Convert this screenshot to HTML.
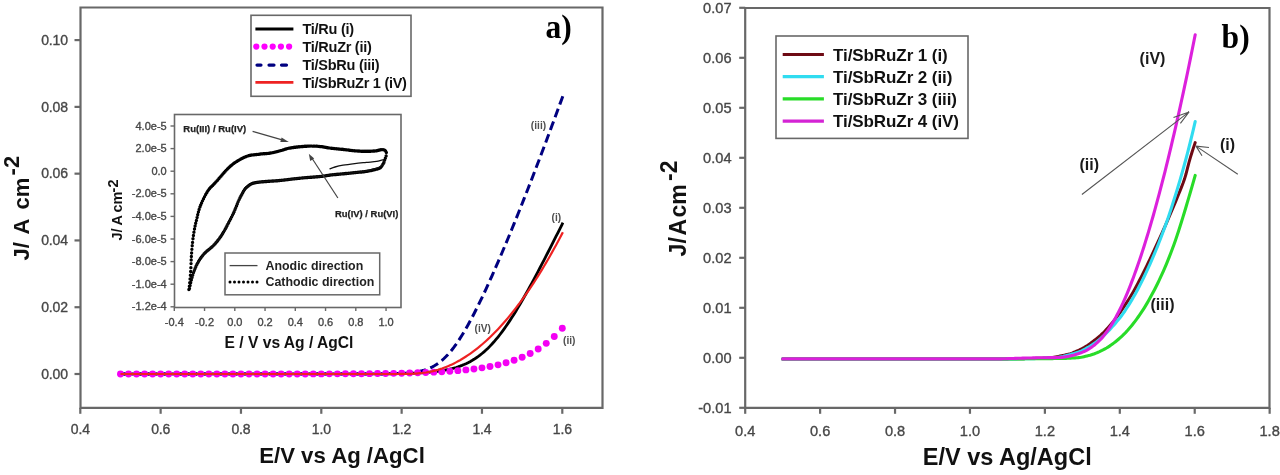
<!DOCTYPE html><html><head><meta charset="utf-8"><style>
html,body{margin:0;padding:0;background:#fff;width:1280px;height:475px;overflow:hidden}
svg{display:block;filter:blur(0.5px)}
text{font-family:"Liberation Sans",sans-serif}
.ser{font-family:"Liberation Serif",serif;font-weight:bold}
</style></head><body>
<svg width="1280" height="475" viewBox="0 0 1280 475">
<rect width="1280" height="475" fill="#fff"/>
<g fill="none" stroke="#686868" stroke-width="2.2">
<path d="M80.5,7.5 H602.5 V407.8 H80.5 Z"/>
<path d="M74.5,374 H80.5"/>
<path d="M74.5,307.22 H80.5"/>
<path d="M74.5,240.44 H80.5"/>
<path d="M74.5,173.66 H80.5"/>
<path d="M74.5,106.88 H80.5"/>
<path d="M74.5,40.1 H80.5"/>
<path d="M80.3,407.8 V413.8"/>
<path d="M160.63,407.8 V413.8"/>
<path d="M240.97,407.8 V413.8"/>
<path d="M321.3,407.8 V413.8"/>
<path d="M401.64,407.8 V413.8"/>
<path d="M481.97,407.8 V413.8"/>
<path d="M562.3,407.8 V413.8"/>
</g>
<g font-size="14" letter-spacing="-0.1" fill="#474747" stroke="#474747" stroke-width="0.35" text-anchor="end">
<text x="68" y="378.8">0.00</text>
<text x="68" y="312.02">0.02</text>
<text x="68" y="245.24">0.04</text>
<text x="68" y="178.46">0.06</text>
<text x="68" y="111.68">0.08</text>
<text x="68" y="44.9">0.10</text>
</g>
<g font-size="14" letter-spacing="-0.2" fill="#474747" stroke="#474747" stroke-width="0.35" text-anchor="middle">
<text x="80.3" y="433.9">0.4</text>
<text x="160.63" y="433.9">0.6</text>
<text x="240.97" y="433.9">0.8</text>
<text x="321.3" y="433.9">1.0</text>
<text x="401.64" y="433.9">1.2</text>
<text x="481.97" y="433.9">1.4</text>
<text x="562.3" y="433.9">1.6</text>
</g>
<text x="259.2" y="462.6" font-size="22.2" font-weight="bold" fill="#111">E/V vs Ag /AgCl</text>
<g transform="translate(28.6,0) rotate(-90)" font-weight="bold" fill="#111" font-size="22"><text x="-260.6" y="0">J/</text><text x="-234.6" y="0">A</text><text x="-209.6" y="0">cm</text><text x="-175.4" y="-9.2">-2</text></g>
<text class="ser" transform="translate(545.5,37.9) scale(0.93,1)" font-size="34" fill="#000">a)</text>
<rect x="251" y="15.3" width="160" height="81" fill="#fff" stroke="#686868" stroke-width="1.6"/>
<path d="M255.4,29 H293.4" stroke="#000" stroke-width="3"/>
<g fill="#ff00ff"><circle cx="256.3" cy="46.6" r="3.1"/><circle cx="264.5" cy="46.6" r="3.1"/><circle cx="272.7" cy="46.6" r="3.1"/><circle cx="280.9" cy="46.6" r="3.1"/><circle cx="289.1" cy="46.6" r="3.1"/></g>
<path d="M257,65.1 H261 M269,65.1 H274 M281.5,65.1 H286.5" stroke="#000080" stroke-width="3.2" stroke-linecap="round"/>
<path d="M255.4,82.4 H293.4" stroke="#ee2222" stroke-width="2.6"/>
<g font-size="14.5" font-weight="bold" fill="#111" letter-spacing="-0.27">
<text x="302.5" y="34.4">Ti/Ru (i)</text>
<text x="302.5" y="52.3">Ti/RuZr (ii)</text>
<text x="302.5" y="70.2">Ti/SbRu (iii)</text>
<text x="302.5" y="88.1">Ti/SbRuZr 1 (iV)</text>
</g>
<path d="M120.47,374 L380,373.85 L382,373.83 L384,373.81 L386,373.79 L388,373.77 L390,373.75 L392,373.72 L394,373.69 L396,373.66 L398,373.62 L400,373.58 L402,373.54 L404,373.49 L406,373.44 L408,373.38 L410,373.31 L412,373.24 L414,373.16 L416,373.07 L418,372.98 L420,372.87 L422,372.75 L424,372.62 L426,372.48 L428,372.32 L430,372.14 L432,371.95 L434,371.74 L436,371.51 L438,371.25 L440,370.97 L442,370.66 L444,370.32 L446,369.94 L448,369.53 L450,369.08 L452,368.59 L454,368.05 L456,367.47 L458,366.83 L460,366.13 L462,365.37 L464,364.55 L466,363.66 L468,362.69 L470,361.65 L472,360.52 L474,359.31 L476,358.01 L478,356.61 L480,355.12 L482,353.53 L484,351.84 L486,350.04 L488,348.14 L490,346.13 L492,344.01 L494,341.79 L496,339.46 L498,337.03 L500,334.5 L502,331.86 L504,329.13 L506,326.31 L508,323.39 L510,320.38 L512,317.3 L514,314.13 L516,310.89 L518,307.59 L520,304.21 L522,300.78 L524,297.28 L526,293.74 L528,290.14 L530,286.5 L532,282.82 L534,279.1 L536,275.35 L538,271.57 L540,267.75 L542,263.91 L544,260.05 L546,256.17 L548,252.26 L550,248.34 L552,244.4 L554,240.45 L556,236.49 L558,232.52 L560,228.53 L562,224.54 L562.9,222.74" fill="none" stroke="#000" stroke-width="2.8"/>
<path d="M120.47,374 L380,373.91 L382,373.9 L384,373.88 L386,373.85 L388,373.83 L390,373.79 L392,373.75 L394,373.71 L396,373.65 L398,373.58 L400,373.5 L402,373.41 L404,373.29 L406,373.16 L408,373 L410,372.81 L412,372.59 L414,372.34 L416,372.03 L418,371.68 L420,371.27 L422,370.79 L424,370.24 L426,369.6 L428,368.87 L430,368.03 L432,367.08 L434,366.01 L436,364.81 L438,363.47 L440,361.98 L442,360.33 L444,358.53 L446,356.57 L448,354.45 L450,352.17 L452,349.72 L454,347.12 L456,344.37 L458,341.47 L460,338.42 L462,335.25 L464,331.94 L466,328.51 L468,324.97 L470,321.32 L472,317.58 L474,313.73 L476,309.8 L478,305.79 L480,301.7 L482,297.54 L484,293.31 L486,289.01 L488,284.66 L490,280.25 L492,275.79 L494,271.27 L496,266.71 L498,262.11 L500,257.46 L502,252.77 L504,248.04 L506,243.28 L508,238.47 L510,233.64 L512,228.77 L514,223.86 L516,218.93 L518,213.96 L520,208.97 L522,203.95 L524,198.9 L526,193.82 L528,188.72 L530,183.59 L532,178.43 L534,173.25 L536,168.05 L538,162.82 L540,157.57 L542,152.3 L544,147 L546,141.68 L548,136.34 L550,130.98 L552,125.6 L554,120.2 L556,114.78 L558,109.33 L560,103.87 L562,98.39 L562.9,95.91" fill="none" stroke="#000080" stroke-width="3" stroke-dasharray="9 4.5"/>
<g fill="#f400f4"><circle cx="120.47" cy="374" r="3.45"/><circle cx="128.5" cy="374" r="3.45"/><circle cx="136.53" cy="374" r="3.45"/><circle cx="144.57" cy="374" r="3.45"/><circle cx="152.6" cy="374" r="3.45"/><circle cx="160.63" cy="374" r="3.45"/><circle cx="168.67" cy="374" r="3.45"/><circle cx="176.7" cy="374" r="3.45"/><circle cx="184.73" cy="374" r="3.45"/><circle cx="192.77" cy="374" r="3.45"/><circle cx="200.8" cy="373.99" r="3.45"/><circle cx="208.83" cy="373.99" r="3.45"/><circle cx="216.87" cy="373.99" r="3.45"/><circle cx="224.9" cy="373.99" r="3.45"/><circle cx="232.93" cy="373.99" r="3.45"/><circle cx="240.97" cy="373.99" r="3.45"/><circle cx="249" cy="373.98" r="3.45"/><circle cx="257.03" cy="373.98" r="3.45"/><circle cx="265.07" cy="373.97" r="3.45"/><circle cx="273.1" cy="373.97" r="3.45"/><circle cx="281.13" cy="373.96" r="3.45"/><circle cx="289.17" cy="373.95" r="3.45"/><circle cx="297.2" cy="373.94" r="3.45"/><circle cx="305.24" cy="373.93" r="3.45"/><circle cx="313.27" cy="373.91" r="3.45"/><circle cx="321.3" cy="373.89" r="3.45"/><circle cx="329.34" cy="373.87" r="3.45"/><circle cx="337.37" cy="373.84" r="3.45"/><circle cx="345.4" cy="373.8" r="3.45"/><circle cx="353.44" cy="373.75" r="3.45"/><circle cx="361.47" cy="373.7" r="3.45"/><circle cx="369.5" cy="373.63" r="3.45"/><circle cx="377.54" cy="373.55" r="3.45"/><circle cx="385.57" cy="373.45" r="3.45"/><circle cx="393.6" cy="373.33" r="3.45"/><circle cx="401.64" cy="373.18" r="3.45"/><circle cx="409.67" cy="372.99" r="3.45"/><circle cx="417.7" cy="372.77" r="3.45"/><circle cx="425.74" cy="372.5" r="3.45"/><circle cx="433.77" cy="372.16" r="3.45"/><circle cx="441.8" cy="371.75" r="3.45"/><circle cx="449.84" cy="371.25" r="3.45"/><circle cx="457.87" cy="370.64" r="3.45"/><circle cx="465.9" cy="369.89" r="3.45"/><circle cx="473.94" cy="368.98" r="3.45"/><circle cx="481.97" cy="367.86" r="3.45"/><circle cx="490" cy="366.5" r="3.45"/><circle cx="498.04" cy="364.83" r="3.45"/><circle cx="506.07" cy="362.78" r="3.45"/><circle cx="514.1" cy="360.29" r="3.45"/><circle cx="522.14" cy="357.24" r="3.45"/><circle cx="530.17" cy="353.51" r="3.45"/><circle cx="538.2" cy="348.94" r="3.45"/><circle cx="546.24" cy="343.37" r="3.45"/><circle cx="554.27" cy="336.55" r="3.45"/><circle cx="562.3" cy="328.22" r="3.45"/></g>
<path d="M120.47,374 L380,374 L382,374 L384,374 L386,374 L388,374 L390,374 L392,373.99 L394,373.99 L396,373.99 L398,373.98 L400,373.97 L402,373.95 L404,373.93 L406,373.91 L408,373.87 L410,373.81 L412,373.74 L414,373.65 L416,373.54 L418,373.39 L420,373.22 L422,373.01 L424,372.76 L426,372.47 L428,372.13 L430,371.75 L432,371.33 L434,370.86 L436,370.34 L438,369.77 L440,369.15 L442,368.48 L444,367.76 L446,366.99 L448,366.17 L450,365.3 L452,364.38 L454,363.41 L456,362.39 L458,361.32 L460,360.2 L462,359.02 L464,357.8 L466,356.53 L468,355.2 L470,353.82 L472,352.4 L474,350.92 L476,349.39 L478,347.81 L480,346.18 L482,344.49 L484,342.76 L486,340.97 L488,339.13 L490,337.24 L492,335.3 L494,333.3 L496,331.25 L498,329.16 L500,327 L502,324.8 L504,322.54 L506,320.23 L508,317.87 L510,315.46 L512,312.99 L514,310.47 L516,307.89 L518,305.27 L520,302.59 L522,299.85 L524,297.07 L526,294.23 L528,291.33 L530,288.39 L532,285.39 L534,282.33 L536,279.22 L538,276.06 L540,272.84 L542,269.57 L544,266.25 L546,262.87 L548,259.44 L550,255.95 L552,252.41 L554,248.81 L556,245.16 L558,241.46 L560,237.7 L562,233.88 L562.9,232.15" fill="none" stroke="#ee2222" stroke-width="2.2"/>
<g font-size="10.2" font-weight="bold" fill="#505050" text-anchor="middle">
<text x="538.5" y="129">(iii)</text>
<text x="556.3" y="220.6">(i)</text>
<text x="482.7" y="331.6">(iV)</text>
<text x="569.3" y="344.2">(ii)</text>
</g>
<rect x="174.5" y="114.5" width="226.5" height="193" fill="#fff" stroke="#686868" stroke-width="1.6"/>
<g fill="none" stroke="#686868" stroke-width="1.4">
<path d="M170.5,126 H174.5"/>
<path d="M170.5,148.6 H174.5"/>
<path d="M170.5,171.2 H174.5"/>
<path d="M170.5,193.8 H174.5"/>
<path d="M170.5,216.4 H174.5"/>
<path d="M170.5,239 H174.5"/>
<path d="M170.5,261.6 H174.5"/>
<path d="M170.5,284.2 H174.5"/>
<path d="M170.5,306.8 H174.5"/>
<path d="M174.3,307.5 V311"/>
<path d="M204.55,307.5 V311"/>
<path d="M234.8,307.5 V311"/>
<path d="M265.05,307.5 V311"/>
<path d="M295.3,307.5 V311"/>
<path d="M325.55,307.5 V311"/>
<path d="M355.8,307.5 V311"/>
<path d="M386.05,307.5 V311"/>
</g>
<g font-size="11" fill="#474747" stroke="#474747" stroke-width="0.35" text-anchor="end">
<text x="166.7" y="129.6">4.0e-5</text>
<text x="166.7" y="152.2">2.0e-5</text>
<text x="166.7" y="174.8">0.0</text>
<text x="166.7" y="197.4">-2.0e-5</text>
<text x="166.7" y="220">-4.0e-5</text>
<text x="166.7" y="242.6">-6.0e-5</text>
<text x="166.7" y="265.2">-8.0e-5</text>
<text x="166.7" y="287.8">-1.0e-4</text>
<text x="166.7" y="310.4">-1.2e-4</text>
</g>
<g font-size="11" fill="#474747" stroke="#474747" stroke-width="0.35" text-anchor="middle">
<text x="174.3" y="325.5">-0.4</text>
<text x="204.55" y="325.5">-0.2</text>
<text x="234.8" y="325.5">0.0</text>
<text x="265.05" y="325.5">0.2</text>
<text x="295.3" y="325.5">0.4</text>
<text x="325.55" y="325.5">0.6</text>
<text x="355.8" y="325.5">0.8</text>
<text x="386.05" y="325.5">1.0</text>
</g>
<text x="224.6" y="348" font-size="15.6" font-weight="bold" fill="#111">E / V vs Ag / AgCl</text>
<g transform="translate(121.8,0) rotate(-90)" font-weight="bold" fill="#111" font-size="14.5"><text x="-240.5" y="0">J/</text><text x="-225.4" y="0">A</text><text x="-212.6" y="0">cm</text><text x="-192.4" y="-3.4">-2</text></g>
<path d="M188.9,289.5h0M189.37,286.15h0M189.73,282.66h0M190.07,278.99h0M190.39,275.28h0M190.67,271.47h0M190.88,267.64h0M191.04,263.62h0M191.18,260.05h0M191.37,256.5h0M191.61,252.95h0M191.89,249.34h0M192.21,245.78h0M192.55,242.38h0M192.97,238.79h0M193.43,235.43h0M193.93,232.28h0M194.5,229h0M195.09,225.96h0M195.69,223.26h0M196.41,220.38h0M197.09,217.54h0M197.71,214.81h0M198.43,211.91h0M199.12,209.44h0M199.94,206.97h0M200.69,205.02h0M201.56,202.96h0M202.52,200.83h0M203.54,198.69h0M204.61,196.58h0M205.69,194.56h0M206.76,192.68h0M207.8,191h0M208.76,189.6h0M209.65,188.48h0M210.73,187.29h0M211.64,186.39h0M212.64,185.43h0M213.79,184.3h0M214.77,183.29h0M215.89,182.07h0M217.14,180.65h0M218.04,179.6h0M218.99,178.49h0M219.98,177.33h0M221,176.13h0M222.05,174.91h0M223.12,173.69h0M224.2,172.47h0M225.29,171.26h0M226.37,170.09h0M227.46,168.97h0M228.52,167.9h0M229.58,166.91h0M230.6,166h0M231.62,165.16h0M232.64,164.35h0M233.68,163.57h0M234.71,162.82h0M235.76,162.11h0M236.8,161.43h0M237.84,160.78h0M238.87,160.16h0M239.9,159.58h0M240.92,159.02h0M241.93,158.5h0M242.92,158h0M243.9,157.54h0M244.86,157.1h0M245.8,156.7h0M246.72,156.34h0M248.05,155.89h0M249.35,155.54h0M250.61,155.27h0M251.85,155.06h0M253.08,154.9h0M254.3,154.76h0M255.51,154.64h0M256.74,154.51h0M257.98,154.36h0M259.24,154.18h0M260.53,154.03h0M261.82,153.91h0M263.12,153.79h0M264.42,153.69h0M265.71,153.59h0M266.98,153.48h0M268.22,153.36h0M269.44,153.22h0M270.62,153.06h0M271.75,152.87h0M272.86,152.65h0M273.93,152.42h0M274.98,152.17h0M276,151.91h0M277.01,151.65h0M277.99,151.38h0M278.97,151.11h0M279.93,150.84h0M280.88,150.58h0M281.81,150.33h0M282.95,149.99h0M284.01,149.64h0M285.04,149.29h0M286.1,148.94h0M287.25,148.61h0M288.19,148.37h0M289.24,148.14h0M290.4,147.93h0M291.7,147.72h0M292.64,147.58h0M293.61,147.44h0M294.61,147.31h0M295.65,147.18h0M296.7,147.05h0M297.77,146.93h0M298.85,146.82h0M299.92,146.71h0M300.98,146.61h0M302.03,146.52h0M303.05,146.44h0M304.05,146.36h0M305,146.3h0M305.92,146.25h0M306.83,146.2h0M308.17,146.14h0M309.48,146.1h0M310.77,146.08h0M312.05,146.08h0M313.32,146.09h0M314.59,146.12h0M315.86,146.17h0M317.14,146.24h0M318.43,146.33h0M319.74,146.46h0M321.05,146.63h0M322.37,146.82h0M323.69,147.03h0M325,147.25h0M326.31,147.47h0M327.61,147.69h0M328.89,147.9h0M330.16,148.09h0M331.42,148.25h0M332.65,148.39h0M333.87,148.52h0M335.07,148.64h0M336.27,148.76h0M337.46,148.87h0M338.64,148.98h0M339.83,149.08h0M341.01,149.2h0M342.2,149.32h0M343.4,149.44h0M344.61,149.58h0M345.82,149.73h0M347.04,149.89h0M348.25,150.04h0M349.47,150.19h0M350.67,150.34h0M351.87,150.49h0M353.06,150.62h0M354.23,150.73h0M355.38,150.83h0M356.52,150.92h0M357.66,151h0M358.78,151.07h0M359.89,151.13h0M360.99,151.19h0M362.08,151.23h0M363.16,151.26h0M364.24,151.28h0M365.3,151.3h0M366.35,151.3h0M367.41,151.29h0M368.47,151.27h0M369.54,151.23h0M370.59,151.19h0M371.62,151.14h0M372.63,151.08h0M373.61,151.01h0M374.55,150.94h0M375.72,150.83h0M376.81,150.69h0M377.82,150.5h0M378.77,150.28h0M379.87,149.99h0M380.88,149.75h0M381.81,149.61h0M382.83,149.63h0M383.73,149.83h0M384.64,150.22h0M385.56,150.94h0M386.35,152.56h0M386.11,155.99h0M385.33,158.16h0M384.58,160.27h0M383.78,162.43h0M382.94,164.09h0M382.11,165.6h0M381.25,166.85h0M380.37,167.7h0M379.44,168.28h0M378.44,168.66h0M377.45,168.93h0M376.49,169.17h0M375.36,169.46h0M374.33,169.73h0M373.21,170.01h0M372.31,170.22h0M371.37,170.44h0M370.4,170.65h0M369.4,170.85h0M368.38,171.05h0M367.34,171.23h0M366.3,171.4h0M365.23,171.55h0M364.13,171.69h0M362.99,171.82h0M361.83,171.94h0M360.64,172.05h0M359.45,172.16h0M358.25,172.27h0M357.06,172.37h0M355.87,172.48h0M354.7,172.6h0M353.54,172.72h0M352.38,172.84h0M351.22,172.96h0M350.06,173.08h0M348.89,173.21h0M347.73,173.33h0M346.57,173.45h0M345.41,173.57h0M344.26,173.68h0M343.1,173.8h0M341.95,173.91h0M340.8,174.02h0M339.65,174.12h0M338.5,174.22h0M337.35,174.32h0M336.2,174.43h0M335.05,174.54h0M333.9,174.65h0M332.75,174.77h0M331.6,174.9h0M330.46,175.04h0M329.34,175.19h0M328.22,175.36h0M327.12,175.52h0M326,175.69h0M324.87,175.86h0M323.71,176.03h0M322.52,176.2h0M321.29,176.35h0M320,176.5h0M318.65,176.64h0M317.71,176.72h0M316.74,176.81h0M315.75,176.89h0M314.75,176.97h0M313.74,177.04h0M312.72,177.12h0M311.7,177.19h0M310.67,177.27h0M309.66,177.35h0M308.66,177.42h0M307.67,177.5h0M306.7,177.58h0M305.76,177.66h0M304.85,177.74h0M303.51,177.87h0M302.2,177.99h0M300.91,178.12h0M299.65,178.25h0M298.4,178.37h0M297.16,178.5h0M295.93,178.64h0M294.69,178.77h0M293.44,178.91h0M292.18,179.05h0M290.89,179.2h0M289.6,179.35h0M288.3,179.51h0M286.99,179.68h0M285.7,179.84h0M284.42,180h0M283.17,180.15h0M281.95,180.29h0M280.76,180.42h0M279.63,180.54h0M278.54,180.63h0M277.49,180.72h0M276.47,180.79h0M275.49,180.85h0M274.52,180.91h0M273.56,180.97h0M272.6,181.03h0M271.64,181.09h0M270.66,181.15h0M269.66,181.23h0M268.64,181.3h0M267.58,181.38h0M266.52,181.45h0M265.45,181.53h0M264.4,181.61h0M263.37,181.69h0M262.38,181.77h0M261.44,181.85h0M260.27,181.97h0M259.23,182.09h0M258.29,182.2h0M257.24,182.34h0M256.28,182.49h0M255.21,182.69h0M254.17,182.95h0M253.16,183.25h0M252.24,183.57h0M251.23,184.01h0M250.23,184.54h0M249.2,185.21h0M248.26,185.9h0M247.31,186.68h0M246.39,187.52h0M245.39,188.55h0M244.42,189.75h0M243.53,191.15h0M242.7,192.68h0M241.78,194.4h0M240.91,196.04h0M240,197.82h0M239.15,199.58h0M238.23,201.62h0M237.36,203.72h0M236.59,205.65h0M235.81,207.62h0M235.04,209.56h0M234.14,211.68h0M233.32,213.49h0M232.41,215.34h0M231.52,217.08h0M230.58,218.88h0M229.69,220.59h0M228.73,222.48h0M227.88,224.12h0M227.02,225.77h0M226.16,227.39h0M225.32,228.92h0M224.38,230.59h0M223.51,232.12h0M222.66,233.56h0M221.77,234.99h0M220.77,236.48h0M219.83,237.8h0M218.83,239.16h0M217.78,240.55h0M216.9,241.67h0M215.97,242.79h0M214.99,243.91h0M213.96,245.02h0M212.86,246.12h0M211.95,246.95h0M210.99,247.77h0M210,248.6h0M209,249.42h0M208,250.24h0M207.02,251.06h0M206.08,251.87h0M205.2,252.69h0M204.15,253.77h0M203.2,254.84h0M202.32,255.9h0M201.31,257.22h0M200.38,258.54h0M199.5,259.87h0M198.67,261.23h0M197.71,262.88h0M196.85,264.56h0M195.93,266.54h0M195.08,268.55h0M194.27,270.58h0M193.53,272.62h0M192.76,274.97h0M192.04,277.41h0M191.34,280.04h0M190.7,282.78h0M190.1,285.6h0M189.49,288.61h0" fill="none" stroke="#000" stroke-width="3.4" stroke-linecap="round"/>
<path d="M191.6,279C192.08,277.5 193.35,272.92 194.5,270C195.65,267.08 196.85,264.25 198.5,261.5C200.15,258.75 201.87,256.2 204.4,253.5C206.93,250.8 211.03,248.05 213.7,245.3C216.37,242.55 218.52,239.63 220.4,237C222.28,234.37 223.4,232.33 225,229.5C226.6,226.67 228.5,222.92 230,220C231.5,217.08 232.58,215.17 234,212C235.42,208.83 237.17,204 238.5,201C239.83,198 240.92,196 242,194C243.08,192 243.75,190.5 245,189C246.25,187.5 248,186 249.5,185C251,184 252.25,183.5 254,183C255.75,182.5 257.33,182.3 260,182C262.67,181.7 266.67,181.45 270,181.2C273.33,180.95 276.23,180.87 280,180.5C283.77,180.13 288.38,179.47 292.6,179C296.82,178.53 300.73,178.12 305.3,177.7C309.87,177.28 315.62,176.97 320,176.5C324.38,176.03 327.75,175.35 331.6,174.9C335.45,174.45 339.25,174.18 343.1,173.8C346.95,173.42 350.83,173.08 354.7,172.6C358.57,172.12 362.82,171.57 366.3,170.9C369.78,170.23 373.23,169.33 375.6,168.6C377.97,167.87 379.02,167.35 380.5,166.5C381.98,165.65 384.08,164.58 384.5,163.5C384.92,162.42 384.3,160.35 383,160C381.7,159.65 379.48,161 376.7,161.4C373.92,161.8 369.97,162.03 366.3,162.4C362.63,162.77 358.57,163.13 354.7,163.6C350.83,164.07 346.38,164.63 343.1,165.2C339.82,165.77 337.27,166.37 335,167C332.73,167.63 330.42,168.67 329.5,169" fill="none" stroke="#111" stroke-width="1.3"/>
<g stroke="#444" stroke-width="1.2" fill="#444">
<path d="M252.6,131.4 L283,140.2" fill="none"/><path d="M288.8,142.1 L281.6,137.6 L280.3,142.1 Z" stroke="none"/>
<path d="M337.9,198 L311.5,157.5" fill="none"/><path d="M308.8,153.8 L310.2,161 L314.2,158.4 Z" stroke="none"/>
</g>
<g font-size="9.8" font-weight="bold" fill="#222" stroke="#222" stroke-width="0.25">
<text x="183.3" y="132.2" textLength="63" lengthAdjust="spacingAndGlyphs">Ru(III) / Ru(IV)</text>
<text x="334.9" y="217.4" textLength="63.5" lengthAdjust="spacingAndGlyphs">Ru(IV) / Ru(VI)</text>
</g>
<rect x="225" y="253" width="154.7" height="41.8" fill="#fff" stroke="#686868" stroke-width="1.5"/>
<path d="M229.6,265.6 H257.5" stroke="#444" stroke-width="1.3"/>
<path d="M230,282 H258" stroke="#000" stroke-width="3" stroke-linecap="round" stroke-dasharray="0 4.5"/>
<g font-size="12.4" font-weight="bold" fill="#222">
<text x="265.5" y="270">Anodic direction</text>
<text x="265.5" y="286.2">Cathodic direction</text>
</g>
<g fill="none" stroke="#686868" stroke-width="2.2">
<path d="M745.2,8 H1269.5 V407.8 H745.2 Z"/>
<path d="M739.2,7.8 H745.2"/>
<path d="M739.2,57.8 H745.2"/>
<path d="M739.2,107.8 H745.2"/>
<path d="M739.2,157.8 H745.2"/>
<path d="M739.2,207.8 H745.2"/>
<path d="M739.2,257.8 H745.2"/>
<path d="M739.2,307.8 H745.2"/>
<path d="M739.2,357.8 H745.2"/>
<path d="M739.2,407.8 H745.2"/>
<path d="M745.2,407.8 V413.8"/>
<path d="M820.12,407.8 V413.8"/>
<path d="M895.04,407.8 V413.8"/>
<path d="M969.96,407.8 V413.8"/>
<path d="M1044.88,407.8 V413.8"/>
<path d="M1119.8,407.8 V413.8"/>
<path d="M1194.72,407.8 V413.8"/>
<path d="M1269.64,407.8 V413.8"/>
</g>
<g font-size="14.6" fill="#474747" stroke="#474747" stroke-width="0.35" text-anchor="end">
<text x="731.5" y="12.8">0.07</text>
<text x="731.5" y="62.8">0.06</text>
<text x="731.5" y="112.8">0.05</text>
<text x="731.5" y="162.8">0.04</text>
<text x="731.5" y="212.8">0.03</text>
<text x="731.5" y="262.8">0.02</text>
<text x="731.5" y="312.8">0.01</text>
<text x="731.5" y="362.8">0.00</text>
<text x="731.5" y="412.8">-0.01</text>
</g>
<g font-size="14.6" fill="#474747" stroke="#474747" stroke-width="0.35" text-anchor="middle">
<text x="745.2" y="435.5">0.4</text>
<text x="820.12" y="435.5">0.6</text>
<text x="895.04" y="435.5">0.8</text>
<text x="969.96" y="435.5">1.0</text>
<text x="1044.88" y="435.5">1.2</text>
<text x="1119.8" y="435.5">1.4</text>
<text x="1194.72" y="435.5">1.6</text>
<text x="1269.64" y="435.5">1.8</text>
</g>
<text x="922.8" y="465" font-size="23.5" font-weight="bold" fill="#111">E/V vs Ag/AgCl</text>
<g transform="translate(686.4,0) rotate(-90)" font-weight="bold" fill="#111" font-size="23"><text x="-256.4" y="0">J/</text><text x="-235.6" y="0">A</text><text x="-217.6" y="0">cm</text><text x="-181" y="-9.5">-2</text></g>
<text class="ser" transform="translate(1221.6,47.8) scale(0.93,1)" font-size="34" fill="#000">b)</text>
<rect x="776" y="36" width="192" height="102.4" fill="#fff" stroke="#686868" stroke-width="1.6"/>
<path d="M782.7,54.5 H823.9" stroke="#6e0a14" stroke-width="3.2"/>
<path d="M782.7,76.7 H823.9" stroke="#30dcf0" stroke-width="3.2"/>
<path d="M782.7,98.9 H823.9" stroke="#28dc28" stroke-width="3.2"/>
<path d="M782.7,121.1 H823.9" stroke="#d424d4" stroke-width="3.2"/>
<g font-size="17" font-weight="bold" fill="#111" letter-spacing="-0.08">
<text x="833" y="60.5">Ti/SbRuZr 1 (i)</text>
<text x="833" y="82.7">Ti/SbRuZr 2 (ii)</text>
<text x="833" y="104.9">Ti/SbRuZr 3 (iii)</text>
<text x="833" y="127.1">Ti/SbRuZr 4 (iV)</text>
</g>
<path d="M782.66,358.9 L1000,358.9 L1001.5,358.9 L1003,358.9 L1004.5,358.89 L1006,358.88 L1007.5,358.88 L1009,358.87 L1010.5,358.85 L1012,358.84 L1013.5,358.82 L1015,358.8 L1016.5,358.78 L1018,358.76 L1019.5,358.74 L1021,358.71 L1022.5,358.68 L1024,358.65 L1025.5,358.62 L1027,358.59 L1028.5,358.56 L1030,358.52 L1031.5,358.48 L1033,358.44 L1034.5,358.4 L1036,358.35 L1037.5,358.31 L1039,358.26 L1040.5,358.21 L1042,358.16 L1043.5,358.11 L1045,358.05 L1046.5,357.98 L1048,357.88 L1049.5,357.74 L1051,357.58 L1052.5,357.38 L1054,357.17 L1055.5,356.93 L1057,356.67 L1058.5,356.39 L1060,356.09 L1061.5,355.78 L1063,355.45 L1064.5,355.11 L1066,354.76 L1067.5,354.4 L1069,354.03 L1070.5,353.58 L1072,353.06 L1073.5,352.49 L1075,351.86 L1076.5,351.22 L1078,350.55 L1079.5,349.86 L1081,349.12 L1082.5,348.33 L1084,347.49 L1085.5,346.6 L1087,345.66 L1088.5,344.67 L1090,343.64 L1091.5,342.57 L1093,341.46 L1094.5,340.3 L1096,339.1 L1097.5,337.87 L1099,336.6 L1100.5,335.29 L1102,333.91 L1103.5,332.47 L1105,330.96 L1106.5,329.38 L1108,327.75 L1109.5,326.06 L1111,324.31 L1112.5,322.5 L1114,320.63 L1115.5,318.69 L1117,316.7 L1118.5,314.65 L1120,312.54 L1121.5,310.39 L1123,308.19 L1124.5,305.94 L1126,303.65 L1127.5,301.33 L1129,298.96 L1130.5,296.57 L1132,294.06 L1133.5,291.43 L1135,288.7 L1136.5,285.93 L1138,283.12 L1139.5,280.26 L1141,277.36 L1142.5,274.41 L1144,271.41 L1145.5,268.37 L1147,265.29 L1148.5,262.17 L1150,259.03 L1151.5,255.86 L1153,252.67 L1154.5,249.47 L1156,246.24 L1157.5,242.98 L1159,239.7 L1160.5,236.4 L1162,233.07 L1163.5,229.72 L1165,226.34 L1166.5,222.93 L1168,219.49 L1169.5,216.02 L1171,212.52 L1172.5,208.99 L1174,205.43 L1175.5,201.84 L1177,198.21 L1178.5,194.55 L1180,190.86 L1181.5,187.18 L1183,183.34 L1184.5,179.09 L1186,174.02 L1187.5,168.2 L1189,162.37 L1190.5,157.17 L1192,152.27 L1193.5,147.6 L1195,143.18 L1195.2,142.62" fill="none" stroke="#6e0a14" stroke-width="3.0" stroke-linecap="round"/>
<path d="M782.66,358.9 L1000,358.9 L1001.5,358.9 L1003,358.9 L1004.5,358.89 L1006,358.89 L1007.5,358.89 L1009,358.88 L1010.5,358.87 L1012,358.86 L1013.5,358.85 L1015,358.84 L1016.5,358.83 L1018,358.82 L1019.5,358.8 L1021,358.79 L1022.5,358.77 L1024,358.75 L1025.5,358.73 L1027,358.71 L1028.5,358.69 L1030,358.67 L1031.5,358.64 L1033,358.62 L1034.5,358.59 L1036,358.56 L1037.5,358.54 L1039,358.5 L1040.5,358.47 L1042,358.44 L1043.5,358.41 L1045,358.37 L1046.5,358.33 L1048,358.3 L1049.5,358.26 L1051,358.21 L1052.5,358.12 L1054,357.98 L1055.5,357.82 L1057,357.61 L1058.5,357.37 L1060,357.1 L1061.5,356.8 L1063,356.48 L1064.5,356.12 L1066,355.75 L1067.5,355.36 L1069,354.95 L1070.5,354.52 L1072,354.08 L1073.5,353.63 L1075,353.17 L1076.5,352.7 L1078,352.23 L1079.5,351.69 L1081,351.06 L1082.5,350.35 L1084,349.58 L1085.5,348.78 L1087,347.95 L1088.5,347.11 L1090,346.21 L1091.5,345.25 L1093,344.26 L1094.5,343.22 L1096,342.16 L1097.5,341.07 L1099,339.91 L1100.5,338.61 L1102,337.26 L1103.5,335.86 L1105,334.42 L1106.5,332.93 L1108,331.4 L1109.5,329.83 L1111,328.22 L1112.5,326.56 L1114,324.86 L1115.5,323.12 L1117,321.34 L1118.5,319.52 L1120,317.66 L1121.5,315.76 L1123,313.71 L1124.5,311.53 L1126,309.26 L1127.5,306.95 L1129,304.59 L1130.5,302.16 L1132,299.65 L1133.5,297.08 L1135,294.44 L1136.5,291.73 L1138,288.94 L1139.5,286.07 L1141,283.11 L1142.5,280.1 L1144,277.01 L1145.5,273.87 L1147,270.67 L1148.5,267.4 L1150,264.08 L1151.5,260.69 L1153,257.21 L1154.5,253.64 L1156,250.01 L1157.5,246.31 L1159,242.54 L1160.5,238.68 L1162,234.74 L1163.5,230.72 L1165,226.64 L1166.5,222.48 L1168,218.21 L1169.5,213.77 L1171,209.21 L1172.5,204.57 L1174,199.84 L1175.5,195.03 L1177,190.14 L1178.5,185.15 L1180,180.08 L1181.5,174.9 L1183,169.63 L1184.5,164.25 L1186,158.76 L1187.5,153.1 L1189,147.25 L1190.5,141.25 L1192,135.1 L1193.5,128.83 L1195,122.46 L1195.2,121.6" fill="none" stroke="#30dcf0" stroke-width="3.1" stroke-linecap="round"/>
<path d="M782.66,358.9 L1000,358.9 L1001.5,358.9 L1003,358.9 L1004.5,358.9 L1006,358.9 L1007.5,358.89 L1009,358.89 L1010.5,358.89 L1012,358.88 L1013.5,358.88 L1015,358.87 L1016.5,358.87 L1018,358.86 L1019.5,358.86 L1021,358.85 L1022.5,358.84 L1024,358.83 L1025.5,358.82 L1027,358.82 L1028.5,358.81 L1030,358.8 L1031.5,358.78 L1033,358.77 L1034.5,358.76 L1036,358.75 L1037.5,358.74 L1039,358.72 L1040.5,358.71 L1042,358.69 L1043.5,358.68 L1045,358.66 L1046.5,358.65 L1048,358.63 L1049.5,358.61 L1051,358.6 L1052.5,358.58 L1054,358.56 L1055.5,358.54 L1057,358.52 L1058.5,358.5 L1060,358.48 L1061.5,358.46 L1063,358.42 L1064.5,358.38 L1066,358.34 L1067.5,358.28 L1069,358.22 L1070.5,358.14 L1072,358.06 L1073.5,357.97 L1075,357.88 L1076.5,357.77 L1078,357.66 L1079.5,357.5 L1081,357.27 L1082.5,356.99 L1084,356.67 L1085.5,356.32 L1087,355.96 L1088.5,355.59 L1090,355.17 L1091.5,354.7 L1093,354.2 L1094.5,353.67 L1096,353.1 L1097.5,352.51 L1099,351.87 L1100.5,351.18 L1102,350.45 L1103.5,349.67 L1105,348.84 L1106.5,347.98 L1108,347.07 L1109.5,346.1 L1111,345.08 L1112.5,344 L1114,342.87 L1115.5,341.69 L1117,340.47 L1118.5,339.2 L1120,337.9 L1121.5,336.57 L1123,335.18 L1124.5,333.7 L1126,332.14 L1127.5,330.5 L1129,328.8 L1130.5,327.04 L1132,325.22 L1133.5,323.33 L1135,321.38 L1136.5,319.36 L1138,317.28 L1139.5,315.14 L1141,312.94 L1142.5,310.68 L1144,308.32 L1145.5,305.88 L1147,303.35 L1148.5,300.75 L1150,298.09 L1151.5,295.36 L1153,292.58 L1154.5,289.71 L1156,286.75 L1157.5,283.71 L1159,280.59 L1160.5,277.4 L1162,274.13 L1163.5,270.78 L1165,267.34 L1166.5,263.81 L1168,260.18 L1169.5,256.44 L1171,252.56 L1172.5,248.55 L1174,244.42 L1175.5,240.19 L1177,235.79 L1178.5,231.24 L1180,226.57 L1181.5,221.79 L1183,216.91 L1184.5,211.95 L1186,206.94 L1187.5,201.91 L1189,196.85 L1190.5,191.73 L1192,186.57 L1193.5,181.36 L1195,176.1 L1195.2,175.39" fill="none" stroke="#28dc28" stroke-width="3.1" stroke-linecap="round"/>
<path d="M782.66,358.9 L1000,358.9 L1001.5,358.84 L1003,358.79 L1004.5,358.73 L1006,358.68 L1007.5,358.63 L1009,358.58 L1010.5,358.53 L1012,358.48 L1013.5,358.43 L1015,358.38 L1016.5,358.34 L1018,358.29 L1019.5,358.25 L1021,358.21 L1022.5,358.17 L1024,358.13 L1025.5,358.09 L1027,358.05 L1028.5,358.01 L1030,357.98 L1031.5,357.94 L1033,357.91 L1034.5,357.88 L1036,357.85 L1037.5,357.82 L1039,357.79 L1040.5,357.76 L1042,357.74 L1043.5,357.72 L1045,357.7 L1046.5,357.69 L1048,357.67 L1049.5,357.66 L1051,357.64 L1052.5,357.63 L1054,357.61 L1055.5,357.58 L1057,357.55 L1058.5,357.52 L1060,357.46 L1061.5,357.34 L1063,357.16 L1064.5,356.94 L1066,356.69 L1067.5,356.43 L1069,356.17 L1070.5,355.87 L1072,355.53 L1073.5,355.16 L1075,354.75 L1076.5,354.31 L1078,353.84 L1079.5,353.33 L1081,352.78 L1082.5,352.17 L1084,351.51 L1085.5,350.79 L1087,350.02 L1088.5,349.18 L1090,348.25 L1091.5,347.24 L1093,346.14 L1094.5,344.96 L1096,343.7 L1097.5,342.37 L1099,340.98 L1100.5,339.5 L1102,337.87 L1103.5,336.09 L1105,334.18 L1106.5,332.15 L1108,330.03 L1109.5,327.82 L1111,325.55 L1112.5,323.15 L1114,320.59 L1115.5,317.9 L1117,315.08 L1118.5,312.17 L1120,309.18 L1121.5,306.12 L1123,302.96 L1124.5,299.6 L1126,296.11 L1127.5,292.54 L1129,288.87 L1130.5,285.08 L1132,281.18 L1133.5,277.18 L1135,273.06 L1136.5,268.86 L1138,264.57 L1139.5,260.2 L1141,255.71 L1142.5,251.11 L1144,246.42 L1145.5,241.65 L1147,236.78 L1148.5,231.83 L1150,226.8 L1151.5,221.68 L1153,216.45 L1154.5,211.07 L1156,205.64 L1157.5,200.14 L1159,194.58 L1160.5,188.95 L1162,183.23 L1163.5,177.42 L1165,171.51 L1166.5,165.49 L1168,159.35 L1169.5,153.13 L1171,146.83 L1172.5,140.47 L1174,134.03 L1175.5,127.53 L1177,120.95 L1178.5,114.29 L1180,107.56 L1181.5,100.74 L1183,93.85 L1184.5,86.88 L1186,79.83 L1187.5,72.7 L1189,65.48 L1190.5,58.17 L1192,50.78 L1193.5,43.3 L1195,35.74 L1195.2,34.72" fill="none" stroke="#dc20dc" stroke-width="3.1" stroke-linecap="round"/>
<g stroke="#555" stroke-width="1.1" fill="none">
<path d="M1081.9,194.5 L1189.1,111.9 M1189.1,111.9 L1173.5,117.4 M1189.1,111.9 L1180.4,123.4"/>
<path d="M1237.8,174.3 L1196,146.1 M1196,146.1 L1209,147.5 M1196,146.1 L1202,155.7"/>
</g>
<g font-size="16" font-weight="bold" fill="#1a1a1a" text-anchor="middle">
<text x="1152.5" y="64">(iV)</text>
<text x="1089.3" y="170.2">(ii)</text>
<text x="1227.5" y="150.2">(i)</text>
<text x="1162.5" y="309.8">(iii)</text>
</g>
</svg></body></html>
